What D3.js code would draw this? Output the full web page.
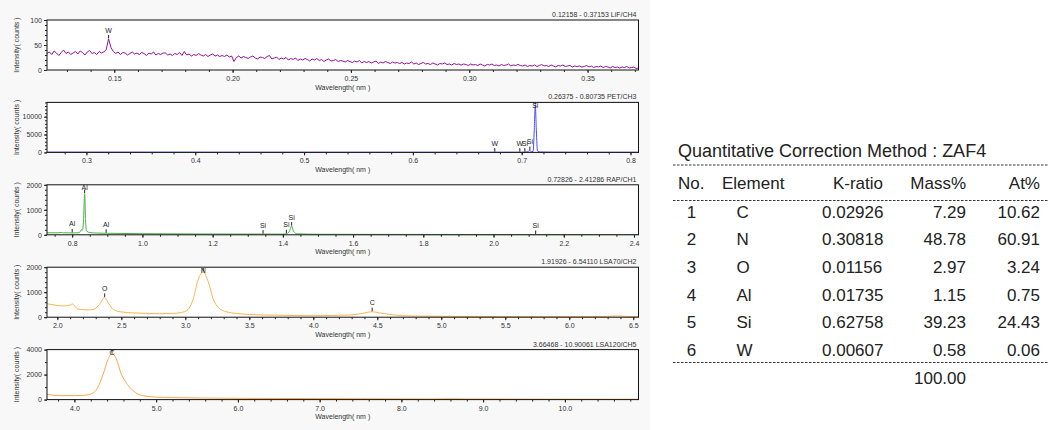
<!DOCTYPE html>
<html>
<head>
<meta charset="utf-8">
<script src="https://cdn.jsdelivr.net/npm/d3@7"></script>
<style>
body { margin: 0; background: #fff; }
svg { display: block; font-family: "Liberation Sans", Arial, sans-serif; }
</style>
</head>
<body>
<svg id="chart" width="1049" height="430"></svg>
<script>
// ---- Data ----
// LiF/CH4: intensity every 0.001 nm starting at 0.1216
const lifStart = 0.1216, lifStep = 0.001;
const lifCounts = [
  33,36,31,38,34,29,35,40,33,36,31,34,37,32,38,35,30,36,39,33,35,31,37,34,36,
  41,62,45,37,33,36,31,35,34,30,33,36,32,34,31,35,33,29,34,32,36,30,33,31,34,
  34,30,32,29,33,31,35,29,37,30,32,28,31,29,33,30,28,31,27,30,32,28,30,27,29,
  27,30,26,28,17,25,28,24,27,25,23,26,28,24,22,26,25,23,27,29,22,24,26,21,24,
  22,25,20,23,21,24,19,22,20,23,21,18,22,20,23,19,21,17,20,22,18,19,21,17,19,
  18,16,19,17,15,18,16,19,14,17,15,17,14,16,18,13,16,14,17,15,13,16,14,15,13,
  15,12,14,13,16,12,14,11,13,15,12,13,11,14,12,10,13,12,14,11,12,10,13,11,12,
  10,12,11,9,12,10,11,9,12,10,8,11,10,12,9,10,8,11,9,10,12,8,10,9,11,
  9,8,10,7,9,8,10,7,9,11,8,9,7,10,8,6,9,8,10,7,8,9,6,8,7,
  8,6,7,9,6,8,5,7,6,8,5,7,6,4,7,5,6,4,6,5,7,4,5,6,3,4
];
const lifData = lifCounts.map((c, i) => [lifStart + i * lifStep, c]);

const petData = [
  [0.26375,80],[0.30,75],[0.40,65],[0.50,60],[0.60,55],[0.67,55],[0.70,58],
  [0.704,80],[0.706,300],[0.7075,500],[0.709,200],[0.7105,300],[0.7115,6000],
  [0.7125,13300],[0.7135,6000],[0.7145,400],[0.717,120],[0.73,60],[0.80735,50]
];

const rapData = [
  [0.72826,80],[0.76,80],[0.77,95],[0.775,80],[0.80,75],[0.82,80],[0.826,200],
  [0.829,180],[0.832,500],[0.8355,1650],[0.838,600],[0.841,150],[0.85,90],
  [0.87,70],[0.90,60],[1.0,45],[1.1,38],[1.2,32],[1.3,28],[1.35,30],[1.40,26],
  [1.41,40],[1.418,120],[1.425,350],[1.43,150],[1.44,40],[1.5,22],[1.6,18],
  [1.8,14],[2.0,12],[2.2,10],[2.41286,8]
];

const lsa70Data = [
  [1.91926,540],[1.95,510],[2.0,470],[2.05,450],[2.09,470],[2.12,530],[2.14,420],
  [2.16,330],[2.2,300],[2.25,290],[2.29,330],[2.33,520],[2.37,790],[2.40,560],
  [2.44,300],[2.5,210],[2.6,170],[2.7,150],[2.8,140],[2.9,150],[2.97,190],
  [3.02,300],[3.06,700],[3.1,1500],[3.14,1810],[3.18,1400],[3.22,700],[3.26,380],
  [3.32,220],[3.4,150],[3.5,110],[3.7,80],[4.0,60],[4.3,90],[4.4,170],[4.46,220],
  [4.52,170],[4.65,80],[4.8,45],[5.0,35],[5.5,25],[6.0,22],[6.3,30],[6.38,50],
  [6.45,30],[6.5411,20]
];

const lsa120Data = [
  [3.66468,420],[3.75,350],[3.85,320],[4.0,320],[4.1,330],[4.2,450],[4.28,900],
  [4.35,2000],[4.41,3200],[4.46,3700],[4.51,3300],[4.57,2100],[4.65,1200],
  [4.75,550],[4.85,300],[5.0,200],[5.2,160],[5.5,130],[6.0,100],[6.5,90],
  [7.0,80],[7.5,70],[8.0,55],[8.4,50],[8.6,70],[8.8,50],[9.5,40],[10.0,35],
  [10.90061,30]
];

// element markers: [wavelength, label]
const lifMarkers = [[0.1476, "W"]];
const petMarkers = [[0.6753,"W"],[0.6983,"W"],[0.7029,"Si"],[0.7075,"Si"],[0.7125,"Si"]];
const rapMarkers = [[0.80,"Al"],[0.8355,"Al"],[0.8967,"Al"],[1.3436,"Si"],[1.41,"Si"],[1.425,"Si"],[2.12,"Si"]];
const lsa70Markers = [[2.37,"O"],[3.14,"N"],[4.46,"C"]];
const lsa120Markers = [[4.46,"C"]];

const panelTitles = [
  "0.12158 - 0.37153  LiF/CH4",
  "0.26375 - 0.80735  PET/CH3",
  "0.72826 - 2.41286  RAP/CH1",
  "1.91926 - 6.54110  LSA70/CH2",
  "3.66468 - 10.90061  LSA120/CH5"
];
const xDomains = [[0.12158,0.37153],[0.26375,0.80735],[0.72826,2.41286],[1.91926,6.54110],[3.66468,10.90061]];
const yMaxes = [100, 14000, 2000, 2000, 4000];
const yTicks = [[0,50,100],[0,5000,10000],[0,1000,2000],[0,1000,2000],[0,2000,4000]];
const yMinorStep = [10, 1000, 200, 200, 1000];
const xMajor = [[0.15,0.20,0.25,0.30,0.35],[0.3,0.4,0.5,0.6,0.7,0.8],
  [0.8,1.0,1.2,1.4,1.6,1.8,2.0,2.2,2.4],[2.0,2.5,3.0,3.5,4.0,4.5,5.0,5.5,6.0,6.5],
  [4,5,6,7,8,9,10]];
const xMinorStep = [0.01, 0.02, 0.05, 0.1, 0.2];
const xFormats = [".2f", ".1f", ".1f", ".1f", ".1f"];
const lineColors = ["#93109a", "#4a4aff", "#45b045", "#ffb24d", "#ffa64d"];

// table
const tableTitle = "Quantitative Correction Method : ZAF4";
const tableHeader = ["No.", "Element", "K-ratio", "Mass%", "At%"];
const tableNo = ["1","2","3","4","5","6"];
const tableElements = ["C","N","O","Al","Si","W"];
const tableKratio = ["0.02926","0.30818","0.01156","0.01735","0.62758","0.00607"];
const tableMass = ["7.29","48.78","2.97","1.15","39.23","0.58"];
const tableAt = ["10.62","60.91","3.24","0.75","24.43","0.06"];
const tableTotal = "100.00";

const spectra = [lifData, petData, rapData, lsa70Data, lsa120Data];
const markers = [lifMarkers, petMarkers, rapMarkers, lsa70Markers, lsa120Markers];

// ---- Drawing ----
const svg = d3.select("#chart");
svg.append("rect").attr("x", 0).attr("y", 0).attr("width", 650).attr("height", 430).attr("fill", "#f8f8f8");

const left = 47, right = 638.5, plotH = 50;
const textCol = "#333";

spectra.forEach((data, i) => {
  const top = 20 + i * 82.4;
  const bottom = top + plotH;
  const x = d3.scaleLinear().domain(xDomains[i]).range([left, right]);
  const y = d3.scaleLinear().domain([0, yMaxes[i]]).range([bottom, top]);
  const g = svg.append("g");

  g.append("rect").attr("x", left).attr("y", top).attr("width", right - left).attr("height", plotH)
    .attr("fill", "#fff");

  // clip for the spectrum
  const clipId = "clip" + i;
  svg.append("clipPath").attr("id", clipId).append("rect")
    .attr("x", left).attr("y", top).attr("width", right - left).attr("height", plotH);

  const line = d3.line().x(d => x(d[0])).y(d => y(d[1]))
    .curve(i === 0 ? d3.curveLinear : d3.curveMonotoneX);
  g.append("path").datum(data).attr("clip-path", `url(#${clipId})`)
    .attr("d", line).attr("fill", "none").attr("stroke", lineColors[i]).attr("stroke-width", 1);

  // interpolated intensity under a marker (for placing the label)
  const valueAt = w => {
    const bis = d3.bisector(d => d[0]).left(data, w);
    if (bis <= 0) return data[0][1];
    if (bis >= data.length) return data[data.length - 1][1];
    const a = data[bis - 1], b = data[bis];
    return a[1] + (b[1] - a[1]) * (w - a[0]) / (b[0] - a[0]);
  };

  markers[i].forEach(m => {
    const mx = x(m[0]);
    const my = y(valueAt(m[0]));
    const base = Math.max(my - 5.5, top + 6.5);
    g.append("line").attr("x1", mx).attr("x2", mx).attr("y1", my - 0.5).attr("y2", Math.max(my - 4, top))
      .attr("stroke", "#222").attr("stroke-width", 1);
    g.append("text").attr("x", mx).attr("y", base - 1).attr("text-anchor", "middle")
      .style("font-size", "7px").attr("fill", "#222").text(m[1]);
  });

  // frame
  g.append("rect").attr("x", left).attr("y", top).attr("width", right - left).attr("height", plotH)
    .attr("fill", "none").attr("stroke", "#111").attr("stroke-width", 1);

  // x axis
  const xMinor = d3.range(Math.ceil(xDomains[i][0] / xMinorStep[i]) * xMinorStep[i], xDomains[i][1], xMinorStep[i]);
  g.append("g").attr("transform", `translate(0,${bottom})`)
    .call(d3.axisBottom(x).tickValues(xMinor).tickSize(2).tickFormat(""))
    .call(a => a.select(".domain").remove())
    .call(a => a.selectAll("line").attr("stroke", "#222"));
  g.append("g").attr("transform", `translate(0,${bottom})`)
    .call(d3.axisBottom(x).tickValues(xMajor[i]).tickSize(3).tickPadding(3).tickFormat(d3.format(xFormats[i])))
    .call(a => a.select(".domain").remove())
    .call(a => a.selectAll("line").attr("stroke", "#222"))
    .call(a => a.selectAll("text").style("font-size", "7px").attr("fill", textCol)
      .style("font-family", "'Liberation Sans', Arial, sans-serif"));

  // y axis
  const yMinor = d3.range(0, yMaxes[i] + 1, yMinorStep[i]);
  g.append("g").attr("transform", `translate(${left},0)`)
    .call(d3.axisLeft(y).tickValues(yMinor).tickSize(2).tickFormat(""))
    .call(a => a.select(".domain").remove())
    .call(a => a.selectAll("line").attr("stroke", "#222"));
  g.append("g").attr("transform", `translate(${left},0)`)
    .call(d3.axisLeft(y).tickValues(yTicks[i]).tickSize(3).tickPadding(2).tickFormat(d3.format("d")))
    .call(a => a.select(".domain").remove())
    .call(a => a.selectAll("line").attr("stroke", "#222"))
    .call(a => a.selectAll("text").style("font-size", "7px").attr("fill", textCol)
      .style("font-family", "'Liberation Sans', Arial, sans-serif"));

  // titles
  g.append("text").attr("x", right - 2).attr("y", top - 3).attr("text-anchor", "end")
    .style("font-size", "7px").attr("fill", textCol).text(panelTitles[i]);
  g.append("text").attr("x", (left + right) / 2).attr("y", bottom + 19.5).attr("text-anchor", "middle")
    .style("font-size", "7px").attr("fill", textCol).text("Wavelength( nm )");
  g.append("text").attr("transform", `translate(19,${top + plotH / 2}) rotate(-90)`)
    .attr("text-anchor", "middle").style("font-size", "7px").attr("fill", textCol).text("Intensity( counts )");
});

// ---- Table ----
const tg = svg.append("g").style("font-size", "17px").attr("fill", "#222");
tg.append("text").attr("x", 678).attr("y", 157).style("font-size", "18px").text(tableTitle);

const dash = yy => tg.append("line").attr("x1", 673).attr("x2", 1049).attr("y1", yy).attr("y2", yy)
  .attr("stroke", "#333").attr("stroke-width", 1).attr("stroke-dasharray", "2.5,1.5");
dash(165); dash(200.5); dash(362.5);

const colX = [678, 722, 883, 966, 1040];
const colAnchor = ["start", "start", "end", "end", "end"];
tableHeader.forEach((h, j) => {
  tg.append("text").attr("x", colX[j]).attr("y", 189).attr("text-anchor", colAnchor[j]).text(h);
});

const rowY = d3.scaleLinear().domain([0, 5]).range([217.5, 356]);
tableNo.forEach((n, r) => {
  const yy = rowY(r);
  tg.append("text").attr("x", 691.5).attr("y", yy).attr("text-anchor", "middle").text(n);
  tg.append("text").attr("x", 736.5).attr("y", yy).text(tableElements[r]);
  tg.append("text").attr("x", 822).attr("y", yy).text(tableKratio[r]);
  tg.append("text").attr("x", 966).attr("y", yy).attr("text-anchor", "end").text(tableMass[r]);
  tg.append("text").attr("x", 1040).attr("y", yy).attr("text-anchor", "end").text(tableAt[r]);
});
tg.append("text").attr("x", 966).attr("y", 384).attr("text-anchor", "end").text(tableTotal);
</script>
</body>
</html>
